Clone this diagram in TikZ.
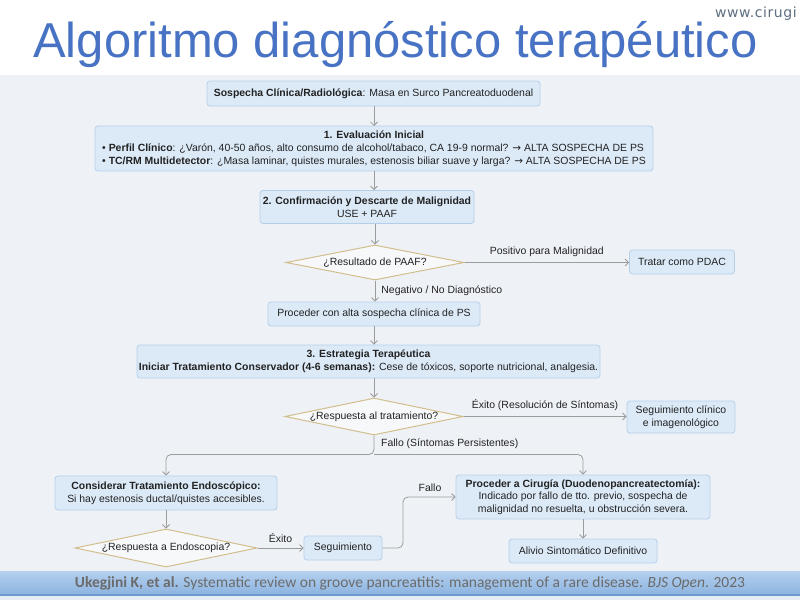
\documentclass[tikz,border=0pt]{standalone}
\usepackage{fontspec}
\setmainfont{Liberation Sans}
\newfontfamily\symf{DejaVu Sans}
\newfontfamily\webf[LetterSpace=4]{DejaVu Sans}
\newfontfamily\footf{Carlito}
\usetikzlibrary{shapes.geometric,arrows.meta,calc}
\definecolor{boxfill}{HTML}{DCEAF8}
\definecolor{boxline}{HTML}{B5CEE8}
\definecolor{decline}{HTML}{D2BE8C}
\definecolor{bgcol}{HTML}{EEF2F6}
\definecolor{linecol}{HTML}{9C9C9C}
\definecolor{titleblue}{HTML}{4873C4}
\definecolor{txt}{HTML}{222222}
\definecolor{foottxt}{HTML}{6B6B6B}
\definecolor{webgray}{HTML}{5E6E80}
\definecolor{foottop}{HTML}{B4D0EE}
\definecolor{footbot}{HTML}{8DB4E0}
\definecolor{footline}{HTML}{6A98CF}
\definecolor{footbelow}{HTML}{E6ECF3}
\newcommand{\rarrowsym}{{\symf →}}
\begin{document}
\begin{tikzpicture}[x=1pt,y=-1pt,font=\fontsize{10.45}{13}\selectfont,
  box/.style={draw=boxline, fill=boxfill, rounded corners=3pt, line width=0.8pt, align=center, inner sep=0pt, text=txt},
  dec/.style={diamond, draw=decline, fill=bgcol!50!white, line width=1pt, aspect=4.8, inner sep=0pt, text=txt},
  conn/.style={draw=linecol, line width=0.8pt, -{Straight Barb[length=3.5pt,width=7pt]}},
  lbl/.style={text=txt, inner sep=0pt}]
\useasboundingbox (0,0) rectangle (800,600);
% backgrounds
\fill[white] (0,0) rectangle (800,75);
\fill[bgcol] (0,75) rectangle (800,571);
\shade[top color=foottop, bottom color=footbot] (0,571) rectangle (800,594);
\fill[footline] (0,594) rectangle (800,596);
\fill[footbelow] (0,596) rectangle (800,600);
% title
\node[anchor=base west, inner sep=0pt, text=titleblue, font=\fontsize{49}{50}\selectfont] (title) at (33,57) {Algoritmo diagnóstico terapéutico};
\node[anchor=base west, inner sep=0pt, text=webgray, font=\webf\fontsize{14}{16}\selectfont] (web) at (715,17) {www.cirugi};
% nodes
\node[box, minimum width=333, minimum height=25] (s0) at (373.5,93.5) {\textbf{Sospecha Clínica/Radiológica}: Masa en Surco Pancreatoduodenal};
\node[box, minimum width=558, minimum height=45] (s1) at (374,148.5) {\begin{tabular}{@{}l@{}}\multicolumn{1}{c}{\textbf{1. Evaluación Inicial}}\\
 • \textbf{Perfil Clínico}: ¿Varón, 40-50 años, alto consumo de alcohol/tabaco, CA 19-9 normal? \rarrowsym{} ALTA SOSPECHA DE PS\\
 • \textbf{TC/RM Multidetector}: ¿Masa laminar, quistes murales, estenosis biliar suave y larga? \rarrowsym{} ALTA SOSPECHA DE PS\end{tabular}};
\node[box, minimum width=214, minimum height=33] (s2) at (367,207) {\textbf{2. Confirmación y Descarte de Malignidad}\\USE + PAAF};
\node[dec, minimum width=178, minimum height=35] (d1) at (375,262.5) {¿Resultado de PAAF?};
\node[box, minimum width=105, minimum height=24] (pdac) at (682,262) {Tratar como PDAC};
\node[box, minimum width=212, minimum height=24] (s3) at (374,314) {Proceder con alta sospecha clínica de PS};
\node[box, minimum width=463, minimum height=33] (s4) at (368.5,361.5) {\textbf{3. Estrategia Terapéutica}\\\textbf{Iniciar Tratamiento Conservador (4-6 semanas):} Cese de tóxicos, soporte nutricional, analgesia.};
\node[dec, minimum width=178, minimum height=37] (d2) at (374,416.5) {¿Respuesta al tratamiento?};
\node[box, minimum width=108, minimum height=32] (seg1) at (681,417) {Seguimiento clínico\\e imagenológico};
\node[box, minimum width=222, minimum height=34] (endo) at (166,493) {\textbf{Considerar Tratamiento Endoscópico:}\\Si hay estenosis ductal/quistes accesibles.};
\node[dec, minimum width=182, minimum height=38] (d3) at (166,548) {¿Respuesta a Endoscopia?};
\node[box, minimum width=78, minimum height=24] (seg2) at (343,548) {Seguimiento};
\node[box, minimum width=254, minimum height=44, font=\fontsize{10.45}{12.5}\selectfont] (cir) at (583,497) {\textbf{Proceder a Cirugía (Duodenopancreatectomía):}\\Indicado por fallo de tto. previo, sospecha de\\malignidad no resuelta, u obstrucción severa.};
\node[box, minimum width=148, minimum height=24] (alivio) at (583,551) {Alivio Sintomático Definitivo};
% connectors
\draw[conn] (374,106) -- (374,126);
\draw[conn] (s1.south) -- (s1.south |- s2.north);
\draw[conn] (s2.south -| d1.north) -- (d1.north);
\draw[conn] (d1.east) -- node[lbl, above=5pt] (l1) {Positivo para Malignidad} (d1.east -| pdac.west);
\draw[conn] (d1.south) -- node[lbl, right=6pt] (l2) {Negativo / No Diagnóstico} (d1.south |- s3.north);
\draw[conn] (s3.south) -- (s3.south |- s4.north);
\draw[conn] (s4.south -| d2.north) -- (d2.north);
\draw[conn] (d2.east) -- node[lbl, above=5pt] (l3) {Éxito (Resolución de Síntomas)} (d2.east -| seg1.west);
\coordinate (split) at ($(d2.south)+(0,19)$);
\draw[conn, rounded corners=5pt] (d2.south) -- (split) -| (endo.north);
\draw[conn, rounded corners=5pt] (split) -| (cir.north);
\node[lbl, anchor=west] (l4) at (381,444) {Fallo (Síntomas Persistentes)};
\draw[conn] (endo.south) -- (endo.south |- d3.north);
\draw[conn] (d3.east) -- node[lbl, above=5pt] (l5) {Éxito} (d3.east -| seg2.west);
\coordinate (bend) at (403,548);
\draw[conn, rounded corners=5pt] (seg2.east) -- (bend) |- (cir.west);
\node[lbl] (l6) at (430,488) {Fallo};
\draw[conn] (cir.south) -- (cir.south |- alivio.north);
% footer
\node[inner sep=0pt, text=foottxt, font=\footf\fontsize{15.5}{17}\selectfont] (foot) at (410,583) {\textbf{Ukegjini K, et al.} Systematic review on groove pancreatitis: management of a rare disease. \textit{BJS Open}. 2023};
\end{tikzpicture}
\end{document}
